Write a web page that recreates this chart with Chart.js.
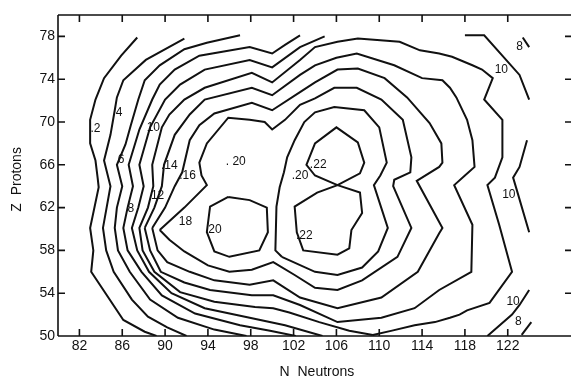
<!DOCTYPE html>
<html>
<head>
<meta charset="utf-8">
<script src="https://cdn.jsdelivr.net/npm/chart.js@4.4.1/dist/chart.umd.min.js"></script>
<style>
  html, body { margin: 0; padding: 0; background: #fff; overflow: hidden; }
  #wrap { width: 590px; height: 382px; }
</style>
</head>
<body>
<div id="wrap"><canvas id="c" width="590" height="382"></canvas></div>
<script>
// Axis ticks
const xTicks = [82, 86, 90, 94, 98, 102, 106, 110, 114, 118, 122];
const yTicks = [50, 54, 58, 62, 66, 70, 74, 78];

// Contour lines, points are [N, Z]
const contour2 = [[87.4,77.9],[85.9,76.2],[84.3,74.1],[83.5,72.1],[83.0,70.2],[83.0,68.0],[83.5,66.4],[83.7,64.8],[83.8,63.9],[83.0,60.1],[83.3,58.0],[83.1,56.0],[86.1,51.5],[88.1,50.4],[89.2,50.0]];
const contour4 = [[91.8,77.8],[88.2,75.8],[86.1,73.9],[85.5,72.3],[85.3,71.1],[84.9,68.8],[84.3,66.4],[84.9,64.0],[84.2,60.1],[84.5,58.0],[85.2,56.0],[86.9,53.4],[88.4,51.8],[90.2,50.8],[92.0,50.0]];
const contour6 = [[97.0,78.1],[93.9,77.4],[91.8,76.8],[89.5,75.3],[88.1,73.9],[87.5,72.1],[86.8,69.7],[86.3,67.9],[85.5,66.0],[86.0,64.0],[85.5,62.0],[85.3,60.1],[85.6,58.0],[86.7,56.0],[88.6,53.4],[91.2,51.7],[94.6,50.6],[97.6,50.0]];
const contour8 = [[102.6,78.1],[101.2,77.2],[100.0,76.4],[97.9,77.0],[93.2,76.2],[90.9,74.9],[89.5,73.5],[88.8,72.1],[87.6,69.3],[86.6,66.0],[87.0,64.0],[86.5,62.0],[86.1,60.1],[86.5,58.0],[87.8,56.0],[89.7,53.8],[92.8,52.1],[97.0,51.0],[99.8,50.5],[102.2,50.0]];
const contour10 = [[104.9,78.0],[102.6,77.0],[100.0,75.1],[97.9,75.8],[93.7,74.9],[91.4,73.5],[90.0,72.1],[88.6,69.5],[87.6,66.0],[88.0,64.0],[87.5,62.0],[86.9,60.1],[87.4,58.0],[88.5,56.0],[90.6,54.0],[93.7,52.6],[97.9,51.7],[101.2,51.0],[104.7,50.0]];
const contour12 = [[109.4,50.1],[107.2,50.5],[104.4,51.3],[101.6,52.2],[100.1,52.6],[98.4,52.7],[94.6,53.2],[91.4,54.1],[89.0,56.0],[87.9,58.0],[87.6,60.1],[88.4,62.0],[88.9,64.0],[88.8,66.0],[89.7,69.5],[90.4,70.7],[91.8,72.1],[93.7,73.2],[98.1,74.6],[100.0,73.7],[102.6,75.8],[104.0,77.0],[106.1,77.5],[108.0,77.8],[111.9,77.5],[113.8,76.7],[115.6,76.4],[116.8,76.1],[118.7,75.3],[119.6,74.9],[120.6,74.1],[119.8,72.1],[121.5,70.2],[121.5,66.7],[120.8,64.8],[120.1,64.1],[121.2,60.4],[122.4,56.0],[120.3,53.1],[118.2,52.4],[117.5,52.0],[116.6,51.7],[115.2,51.3],[113.3,51.0],[111.2,50.5],[109.4,50.1]];
const contour14 = [[88.1,60.1],[89.0,62.0],[89.7,64.0],[89.9,66.0],[90.9,68.8],[92.3,70.7],[93.7,72.1],[98.1,73.2],[100.0,72.5],[102.6,74.4],[104.0,75.3],[106.0,76.0],[107.9,76.4],[111.4,75.3],[114.0,74.1],[115.9,73.9],[116.6,73.2],[117.2,72.3],[118.2,70.2],[118.7,68.3],[118.9,65.8],[118.0,65.0],[117.0,64.1],[118.7,60.4],[118.6,56.0],[115.6,54.3],[113.3,52.6],[110.2,51.7],[106.1,51.3],[102.6,52.9],[100.1,53.8],[98.1,53.8],[94.2,54.3],[91.8,55.0],[89.6,56.0],[88.6,58.0],[88.1,60.1]];
const contour16 = [[88.8,60.1],[90.0,62.0],[90.9,64.0],[91.6,65.3],[92.3,68.3],[93.2,69.7],[94.6,70.8],[98.1,71.8],[100.0,71.1],[102.6,72.8],[104.0,73.7],[106.1,74.9],[108.0,75.0],[110.5,74.1],[112.6,72.3],[114.7,69.9],[115.8,68.0],[115.9,66.2],[115.6,65.8],[113.5,64.5],[115.9,60.1],[115.6,59.6],[113.6,56.0],[110.2,53.6],[106.1,52.6],[102.6,53.6],[100.1,55.2],[97.9,54.8],[94.6,55.2],[92.3,56.0],[90.2,56.9],[89.3,58.0],[88.8,60.1]];
const contour18 = [[89.5,59.9],[91.8,62.0],[93.9,64.1],[93.4,65.0],[93.2,66.2],[93.9,68.0],[95.9,70.4],[97.9,70.2],[99.3,70.0],[100.0,69.3],[101.2,70.2],[102.6,71.6],[104.0,72.2],[105.8,73.2],[107.9,73.2],[110.2,72.1],[112.2,70.2],[113.0,66.7],[112.9,65.3],[111.4,64.6],[111.3,64.0],[113.0,60.1],[111.7,57.4],[108.4,55.2],[106.1,54.3],[104.0,54.5],[102.1,55.7],[100.1,56.9],[98.1,56.2],[96.0,56.0],[94.0,56.6],[91.8,57.9],[90.4,59.0],[89.5,59.9]];
const contour20West = [[95.9,63.0],[97.9,62.7],[99.5,62.0],[99.6,59.7],[98.8,58.0],[96.0,57.4],[94.6,57.9],[93.9,59.7],[94.2,62.1],[95.9,63.0]];
const contour20East = [[100.9,57.4],[100.3,58.0],[100.4,62.1],[100.7,63.9],[101.1,65.3],[101.4,66.7],[102.1,68.3],[103.0,70.0],[104.0,70.9],[105.8,71.4],[108.6,71.1],[110.0,69.5],[110.7,66.2],[110.1,65.0],[109.5,64.1],[110.8,60.1],[109.9,57.9],[108.4,56.4],[106.1,55.7],[104.0,56.0],[100.9,57.4]];
const contour22 = [[106.1,64.1],[104.0,65.0],[103.2,66.0],[104.0,68.0],[106.0,69.5],[108.0,68.1],[108.6,66.2],[108.2,65.2],[106.1,64.1],[104.2,63.4],[102.1,62.1],[102.3,59.7],[102.9,58.0],[106.1,57.6],[107.2,58.2],[107.4,59.9],[108.4,61.5],[108.2,63.4],[106.1,64.1]];
const contour10NE = [[118.0,78.1],[119.8,78.1],[123.1,74.4],[124.0,72.1]];
const contour10E = [[123.8,68.3],[123.1,65.8],[122.5,64.8],[122.8,63.8],[124.0,59.7]];
const contour10SE = [[120.1,50.0],[122.4,52.0],[123.1,52.9],[124.0,54.3]];
const contour8NE = [[123.4,77.9],[124.0,77.0]];
const contour8SE = [[123.3,50.1],[124.2,51.3]];

const contours = [contour2, contour4, contour6, contour8, contour10, contour12, contour14,
  contour16, contour18, contour20West, contour20East, contour22,
  contour10NE, contour10E, contour10SE, contour8NE, contour8SE];

// Contour value labels
const labelText = ['.2', '4', '6', '10', '.14', '.16', '. 20', '12', '8', '18', '.20', '.20', '.22', '.22', '10', '8', '10', '10', '8'];
const labelN = [83.5, 85.7, 85.9, 88.9, 90.4, 92.1, 96.6, 89.3, 86.8, 91.9, 94.5, 102.6, 104.3, 103.0, 121.4, 123.1, 122.1, 122.5, 123.0];
const labelZ = [69.4, 70.9, 66.5, 69.5, 65.9, 65.0, 66.3, 63.1, 61.9, 60.7, 59.9, 65.0, 66.0, 59.4, 74.9, 77.0, 63.2, 53.2, 51.3];

const INK = '#111';
Chart.defaults.font.family = "'Liberation Sans', Arial, Helvetica, sans-serif";
Chart.defaults.color = INK;

// Frame, inward tick marks on all four sides, and the contour value labels
const framePlugin = {
  id: 'frame',
  afterDatasetsDraw(chart) {
    const { ctx, chartArea: a, scales: { x, y } } = chart;
    ctx.save();
    ctx.strokeStyle = INK;
    ctx.lineWidth = 1.6;
    ctx.beginPath();
    ctx.moveTo(a.left, a.top); ctx.lineTo(a.right, a.top);
    ctx.moveTo(a.left, a.top); ctx.lineTo(a.left, a.bottom);
    ctx.moveTo(a.left, a.bottom); ctx.lineTo(a.right, a.bottom);
    ctx.moveTo(a.right, a.top); ctx.lineTo(a.right, a.bottom);
    const tl = 7;
    xTicks.forEach(v => {
      const px = x.getPixelForValue(v);
      ctx.moveTo(px, a.bottom); ctx.lineTo(px, a.bottom - tl);
      ctx.moveTo(px, a.top); ctx.lineTo(px, a.top + tl);
    });
    yTicks.forEach(v => {
      const py = y.getPixelForValue(v);
      ctx.moveTo(a.left, py); ctx.lineTo(a.left + tl, py);
      ctx.moveTo(a.right, py); ctx.lineTo(a.right - tl, py);
    });
    ctx.stroke();

    ctx.fillStyle = INK;
    ctx.font = "12px 'Liberation Sans', Arial, sans-serif";
    ctx.textAlign = 'center';
    ctx.textBaseline = 'middle';
    labelText.forEach((t, i) => {
      ctx.fillText(t, x.getPixelForValue(labelN[i]), y.getPixelForValue(labelZ[i]));
    });
    ctx.restore();
  }
};

new Chart(document.getElementById('c'), {
  type: 'scatter',
  data: {
    datasets: contours.map(c => ({
      data: c.map(([n, z]) => ({ x: n, y: z })),
      showLine: true,
      borderColor: INK,
      borderWidth: 2,
      pointRadius: 0,
      fill: false,
      tension: 0
    }))
  },
  options: {
    responsive: false,
    animation: false,
    layout: { padding: { top: 15, right: 18, left: 0, bottom: 0 } },
    plugins: { legend: { display: false }, tooltip: { enabled: false } },
    scales: {
      x: {
        type: 'linear', min: 80, max: 128, position: 'bottom',
        afterBuildTicks: s => { s.ticks = xTicks.map(v => ({ value: v })); },
        afterFit: s => { s.height = 46; },
        grid: { display: false, drawTicks: false },
        border: { display: false },
        ticks: { font: { size: 14 }, color: INK, padding: 2, maxRotation: 0, autoSkip: false },
        title: { display: true, text: ' N  Neutrons', font: { size: 14 }, color: INK, padding: { top: 0, bottom: 1 } }
      },
      y: {
        type: 'linear', min: 50, max: 80,
        afterBuildTicks: s => { s.ticks = yTicks.map(v => ({ value: v })); },
        afterFit: s => { s.width = 58; },
        grid: { display: false, drawTicks: false },
        border: { display: false },
        ticks: { font: { size: 14 }, color: INK, padding: 3, autoSkip: false },
        title: { display: true, text: 'Z  Protons  ', font: { size: 14 }, color: INK, padding: { top: 8.6, bottom: 0 } }
      }
    }
  },
  plugins: [framePlugin]
});
</script>
</body>
</html>
